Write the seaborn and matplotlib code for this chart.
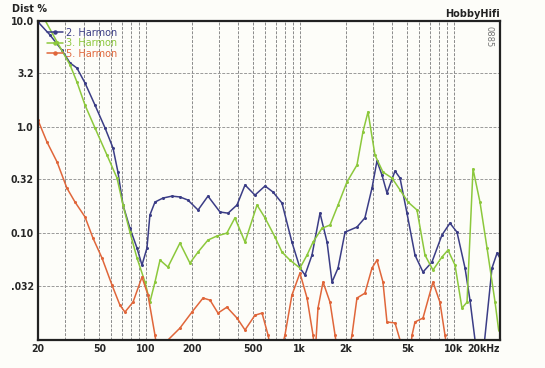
import numpy as np
import pandas as pd
import matplotlib
matplotlib.use('Agg')
import matplotlib.pyplot as plt
import seaborn as sns

# values
freq_h2 = [20, 23.9, 28.6, 32.3, 35.8, 40.4, 46.9, 54.5, 61.4, 66.1, 71.3, 79.1, 87.9, 94.7,
           102, 106.6, 115, 129.7, 148.3, 167, 188, 219, 254, 304, 343, 392, 442, 513, 596,
           671, 768, 891, 1005, 1084, 1203, 1356, 1507, 1623, 1776, 1972, 2357, 2654, 2951,
           3178, 3427, 3691, 4163, 4487, 4978, 5612, 6325, 7227, 8395, 9465, 10520, 11860,
           12770, 14180, 15520, 17750, 19150, 20000]
dist_h2 = [9.8, 7.4, 5.3, 4.02, 3.6, 2.6, 1.61, 0.98, 0.634, 0.376, 0.184, 0.111, 0.0722, 0.0499,
           0.0722, 0.148, 0.196, 0.214, 0.223, 0.219, 0.205, 0.165, 0.223, 0.158, 0.154, 0.184,
           0.284, 0.228, 0.278, 0.244, 0.192, 0.0822, 0.0468, 0.0402, 0.062, 0.154, 0.0822,
           0.0345, 0.0468, 0.102, 0.114, 0.139, 0.266, 0.478, 0.352, 0.239, 0.385, 0.33, 0.154,
           0.062, 0.0429, 0.0532, 0.0957, 0.124, 0.102, 0.0468, 0.0233, 0.007, 0.007, 0.0468,
           0.0648, 0.058]

freq_h3 = [22.2, 26.6, 32.3, 35.8, 40.4, 46.9, 56.1, 65.2, 71.3, 79.1, 87.9, 99.1, 106.6, 115,
           124, 139.6, 167, 194, 219, 254, 290, 337, 380, 442, 529, 596, 692, 768, 865, 1005,
           1117, 1222, 1397, 1575, 1776, 2029, 2357, 2577, 2780, 3085, 3477, 3981, 4487, 5058,
           5781, 6516, 7343, 8395, 9189, 10210, 11330, 12220, 13360, 14830, 16480, 18580, 19600]
dist_h3 = [10.2, 6.34, 3.85, 2.66, 1.61, 0.98, 0.544, 0.33, 0.184, 0.102, 0.0581, 0.0345, 0.0223,
           0.0345, 0.0556, 0.0478, 0.0805, 0.0521, 0.0662, 0.0859, 0.0937, 0.1, 0.139, 0.0822,
           0.184, 0.139, 0.0917, 0.0662, 0.0556, 0.0468, 0.062, 0.0822, 0.111, 0.119, 0.184,
           0.303, 0.438, 0.9, 1.39, 0.544, 0.376, 0.33, 0.255, 0.196, 0.165, 0.062, 0.0448,
           0.0594, 0.0691, 0.0499, 0.0196, 0.0223, 0.402, 0.196, 0.0722, 0.0223, 0.0122]

freq_h5 = [20, 22.9, 26.6, 30.8, 34.8, 40.4, 45.5, 52.1, 60.5, 68.1, 73.4, 82.8, 94.7, 103.6,
           115, 120.3, 133.6, 139.6, 167, 200, 236, 262, 295, 337, 392, 442, 513, 570, 624,
           661, 745, 803, 891, 1005, 1117, 1222, 1259, 1316, 1419, 1575, 1699, 1776, 2061,
           2188, 2357, 2654, 2951, 3178, 3477, 3691, 4163, 4487, 4830, 5210, 5370, 5612, 6325,
           7343, 8149, 8790, 9189]
dist_h5 = [1.16, 0.72, 0.468, 0.266, 0.196, 0.142, 0.0897, 0.0581, 0.0323, 0.0209, 0.018, 0.0223,
           0.0385, 0.026, 0.0109, 0.007, 0.007, 0.0098, 0.0127, 0.018, 0.0244, 0.0233, 0.0176,
           0.02, 0.0158, 0.0122, 0.0168, 0.0176, 0.0109, 0.007, 0.007, 0.0109, 0.026, 0.042,
           0.0244, 0.0109, 0.007, 0.0196, 0.0345, 0.0223, 0.0109, 0.007, 0.007, 0.0109, 0.0244,
           0.0271, 0.0468, 0.0556, 0.0345, 0.0145, 0.0142, 0.0098, 0.007, 0.007, 0.0109, 0.0145,
           0.0158, 0.0345, 0.0223, 0.0109, 0.007]

series_names = ['2. Harmon', '3. Harmon', '5. Harmon']
series_colors = ['#3b3d86', '#8cc83c', '#e0663a']

y_ticks = [10.0, 3.2, 1.0, 0.32, 0.10, 0.032]
y_labels = ['10.0', '3.2', '1.0', '0.32', '0.10', '.032']
x_ticks = [20, 50, 100, 200, 500, 1000, 2000, 5000, 10000, 20000]
x_labels = ['20', '50', '100', '200', '500', '1k', '2k', '5k', '10k', '20kHz']

df = pd.concat([
    pd.DataFrame({'freq': freq_h2, 'dist': dist_h2, 'series': series_names[0]}),
    pd.DataFrame({'freq': freq_h3, 'dist': dist_h3, 'series': series_names[1]}),
    pd.DataFrame({'freq': freq_h5, 'dist': dist_h5, 'series': series_names[2]}),
])

sns.set_style('white')
plt.rcParams['font.family'] = ['DejaVu Sans']

fig = plt.figure(figsize=(5.45, 3.68), dpi=100)
fig.patch.set_facecolor('#fdfdf9')
ax = fig.add_axes([0.0697, 0.076, 0.8477, 0.867])
ax.set_facecolor('#fdfdf9')
ax.set_xscale('log')
ax.set_yscale('log')

sns.lineplot(data=df, x='freq', y='dist', hue='series', palette=series_colors,
             estimator=None, sort=False, marker='o', markersize=2.2, markeredgewidth=0,
             linewidth=1.1, solid_joinstyle='round', legend=False, ax=ax)

ax.set_xlim(20, 20000)
ax.set_ylim(0.0098, 10.0)

# grid: every log minor line vertically, half decades horizontally
ax.xaxis.set_minor_locator(matplotlib.ticker.LogLocator(base=10, subs=np.arange(2, 10)))
ax.xaxis.set_minor_formatter(matplotlib.ticker.NullFormatter())
ax.yaxis.set_minor_locator(matplotlib.ticker.NullLocator())
ax.grid(True, axis='x', which='both', color='#8a8a8a', linestyle=(0, (3, 1.5)), linewidth=0.7)
ax.set_yticks(y_ticks)
ax.set_yticklabels(y_labels)
ax.grid(True, axis='y', which='major', color='#9a9a9a', linestyle=(0, (3, 1.5)), linewidth=0.7)
ax.set_xticks(x_ticks)
ax.set_xticklabels(x_labels)
ax.tick_params(axis='both', which='both', length=0, labelsize=7.5, pad=3)
for lab in ax.get_xticklabels() + ax.get_yticklabels():
    lab.set_fontweight('bold')
    lab.set_fontstretch('condensed')
ax.get_xticklabels()[-1].set_horizontalalignment('right')
ax.set_xlabel('')
ax.set_ylabel('')

for side in ['left', 'bottom', 'top', 'right']:
    ax.spines[side].set_visible(True)
    ax.spines[side].set_color('#222222')
    ax.spines[side].set_linewidth(1.6)

# legend with coloured labels
handles = [plt.Line2D([], [], color=c, lw=1.1, marker='o', markersize=2.2) for c in series_colors]
leg = ax.legend(handles, series_names, loc='upper left', bbox_to_anchor=(0.005, 1.0),
                frameon=False, fontsize=7, handlelength=1.6, handletextpad=0.3,
                labelspacing=0.05, borderaxespad=0.3)
for txt, c in zip(leg.get_texts(), series_colors):
    txt.set_color(c)

fig.text(0.022, 0.968, 'Dist %', fontsize=7, fontweight='bold', color='#222222')
fig.text(0.917, 0.948, 'HobbyHifi', fontsize=7, fontweight='bold', ha='right', va='bottom',
         color='#222222')
ax.text(0.985, 0.985, '0885', transform=ax.transAxes, rotation=270, fontsize=6,
        color='#777777', ha='right', va='top')

fig.savefig('out.png', dpi=100, facecolor=fig.get_facecolor())
